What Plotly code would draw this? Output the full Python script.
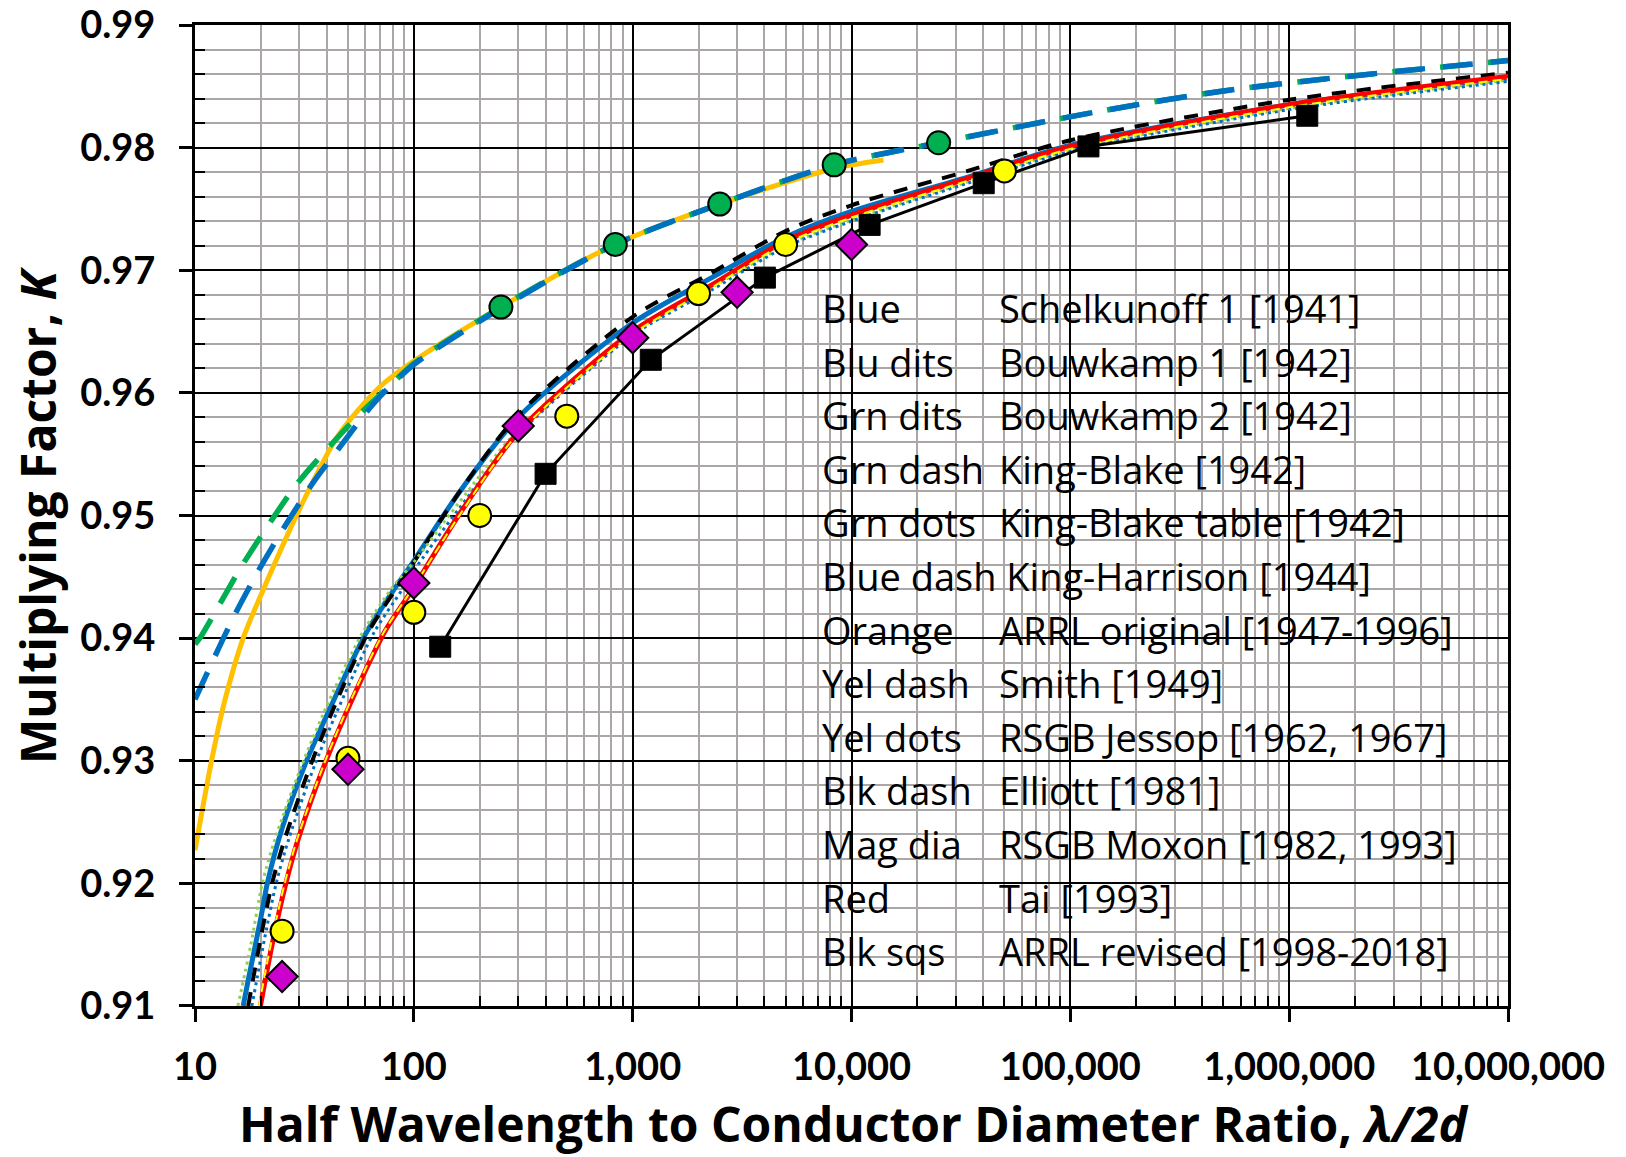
import plotly.graph_objects as go

# ---------------- data ----------------
# Schelkunoff 1 [1941] - blue solid
blue_x = [16.6, 17.5, 20, 21.4, 25, 32, 44, 60, 80, 100, 160, 300, 1000, 2300, 5000, 10000, 34000, 1e5, 1e6, 1e7]
blue_y = [0.9100, 0.9121, 0.9172, 0.9200, 0.9245, 0.9298, 0.9353, 0.9403, 0.9438, 0.9463, 0.9518, 0.9580,
          0.9657, 0.9694, 0.9727, 0.9748, 0.9776, 0.9802, 0.9835, 0.9857]
# Bouwkamp 1 [1942] - blue dotted
bdot_x = [18.2, 20.8, 23.5, 26.8, 35.5, 48.5, 66, 88, 100, 160, 300, 1000, 2300, 5000, 10000, 34000, 1e5, 1e6, 1e7]
bdot_y = [0.9100, 0.9155, 0.9200, 0.9236, 0.9298, 0.9355, 0.9405, 0.9439, 0.9455, 0.9505, 0.9566, 0.9647,
          0.9684, 0.9719, 0.9740, 0.9771, 0.9797, 0.9831, 0.9854]
# Bouwkamp 2 [1942] - light green dotted
gdot_x = [15.7, 18, 20.3, 23.2, 31, 42.5, 58.5, 78, 100, 160, 300, 1000, 2300, 5000, 10000, 34000, 1e5, 1e6, 1e7]
gdot_y = [0.9100, 0.9150, 0.9200, 0.9236, 0.9298, 0.9355, 0.9405, 0.9439, 0.9462, 0.9510, 0.9570, 0.9649,
          0.9686, 0.9720, 0.9741, 0.9772, 0.9798, 0.9832, 0.9855]
# King-Blake [1942] - green dashed
gdash_x = [10, 10.7, 16, 21.6, 29.6, 42, 57.5, 80, 100, 250, 830, 2500, 8300, 25000, 130000, 490000, 1.84e6, 1e7]
gdash_y = [0.9395, 0.9402, 0.9456, 0.9492, 0.9527, 0.9558, 0.9584, 0.9608, 0.9624, 0.9670, 0.9721, 0.9754,
           0.9786, 0.9804, 0.9829, 0.9846, 0.9858, 0.9871]
# King-Blake table [1942] - green circles
kbt_x = [250, 833, 2500, 8333, 25000]
kbt_y = [0.9670, 0.9721, 0.9754, 0.9786, 0.9804]
# King-Harrison [1944] - blue dashed
bdash_x = [10, 15, 19.5, 25.7, 34.7, 47.4, 66, 100, 250, 830, 2500, 8300, 25000, 130000, 490000, 1.84e6, 1e7]
bdash_y = [0.9350, 0.9417, 0.9455, 0.9491, 0.9527, 0.9559, 0.9592, 0.9623, 0.9669, 0.9721, 0.9754, 0.9786,
           0.9804, 0.9829, 0.9846, 0.9858, 0.9871]
# ARRL original [1947-1996] - orange
orange_x = [10, 11.9, 13.5, 16.6, 20, 30, 45, 70, 100, 250, 830, 2500, 8300, 14000]
orange_y = [0.9227, 0.9300, 0.9345, 0.9400, 0.9435, 0.9505, 0.9565, 0.9605, 0.9626, 0.9670, 0.9721, 0.9754,
            0.9783, 0.9790]
# Smith [1949] - yellow dashed
ydash_x = [19.6, 22.2, 25.7, 29.3, 39, 53.3, 73, 97.5, 160, 300, 1000, 2300, 5000, 10000, 34000, 1e5, 1e6, 1e7]
ydash_y = [0.9100, 0.9150, 0.9200, 0.9236, 0.9298, 0.9355, 0.9405, 0.9439, 0.9499, 0.9567, 0.9648, 0.9686,
           0.9722, 0.9743, 0.9773, 0.9799, 0.9833, 0.9856]
# RSGB Jessop [1962, 1967] - yellow circles
jes_x = [25, 50, 100, 200, 500, 2000, 5000, 50000]
jes_y = [0.9161, 0.9302, 0.9421, 0.9500, 0.9581, 0.9681, 0.9721, 0.9781]
# Elliott [1981] - black dashed
kdash_x = [17.5, 20.2, 22.5, 25.7, 34, 46, 62, 82, 100, 160, 300, 1000, 2300, 5000, 10000, 34000, 1e5, 1e6, 1e7]
kdash_y = [0.9100, 0.9160, 0.9200, 0.9236, 0.9298, 0.9355, 0.9405, 0.9439, 0.9462, 0.9518, 0.9582, 0.9662,
           0.9698, 0.9732, 0.9753, 0.9781, 0.9806, 0.9839, 0.9861]
# RSGB Moxon [1982, 1993] - magenta diamonds
mox_x = [25, 50, 100, 300, 1000, 3000, 10000]
mox_y = [0.9124, 0.9293, 0.9445, 0.9573, 0.9645, 0.9682, 0.9721]
# Tai [1993] - red
red_x = [19.9, 22.5, 26.0, 29.6, 39.3, 53.8, 73.5, 98, 160, 300, 1000, 2300, 5000, 10000, 34000, 1e5, 1e6, 1e7]
red_y = [0.9100, 0.9150, 0.9200, 0.9236, 0.9298, 0.9355, 0.9405, 0.9439, 0.9500, 0.9568, 0.9650, 0.9688,
         0.9724, 0.9745, 0.9775, 0.9801, 0.9835, 0.9858]
# ARRL revised [1998-2018] - black squares
arrl_x = [132, 400, 1210, 4020, 12100, 40200, 121000, 1210000]
arrl_y = [0.9393, 0.9534, 0.9627, 0.9694, 0.9737, 0.9771, 0.9801, 0.9826]

# axis ticks
x_tickvals = [10, 100, 1000, 10000, 100000, 1000000, 10000000]
x_ticktext = ["10", "100", "1,000", "10,000", "100,000", "1,000,000", "10,000,000"]
y_tickvals = [0.91, 0.92, 0.93, 0.94, 0.95, 0.96, 0.97, 0.98, 0.99]
y_ticktext = ["0.91", "0.92", "0.93", "0.94", "0.95", "0.96", "0.97", "0.98", "0.99"]

# legend text
legend_keys = ["Blue", "Blu dits", "Grn dits", "Grn dash", "Grn dots", "Blue dash", "Orange",
               "Yel dash", "Yel dots", "Blk dash", "Mag dia", "Red", "Blk sqs"]
legend_names = ["Schelkunoff 1 [1941]", "Bouwkamp 1 [1942]", "Bouwkamp 2 [1942]", "King-Blake [1942]",
                "King-Blake table [1942]", "King-Harrison [1944]", "ARRL original [1947-1996]",
                "Smith [1949]", "RSGB Jessop [1962, 1967]", "Elliott [1981]", "RSGB Moxon [1982, 1993]",
                "Tai [1993]", "ARRL revised [1998-2018]"]

# ---------------- figure ----------------
BLUE = "#0070C0"
GREEN = "#00B050"
LGREEN = "#92D050"
ORANGE = "#FFC000"
YELLOW = "#FFFF00"
RED = "#FF0000"
MAG = "#CC00CC"
FONT = "Open Sans"

fig = go.Figure()


def line(x, y, color, width, dash="solid"):
    fig.add_trace(go.Scatter(x=x, y=y, mode="lines",
                             line=dict(color=color, width=width, dash=dash, shape="spline", smoothing=0.8),
                             hoverinfo="skip"))


line(orange_x, orange_y, ORANGE, 5)
line(gdash_x, gdash_y, GREEN, 5.5, "30px,18px")
line(bdash_x, bdash_y, BLUE, 5.5, "30px,18px")
line(blue_x, blue_y, BLUE, 5)
line(kdash_x, kdash_y, "black", 4, "14px,11px")
line(gdot_x, gdot_y, LGREEN, 3, "3px,4px")
line(bdot_x, bdot_y, BLUE, 3, "3px,4px")
line(red_x, red_y, RED, 5)
line(ydash_x, ydash_y, YELLOW, 2, "9px,5px")

fig.add_trace(go.Scatter(x=arrl_x, y=arrl_y, mode="lines+markers",
                         line=dict(color="black", width=3),
                         marker=dict(symbol="square", size=21, color="black",
                                     line=dict(color="black", width=1))))
fig.add_trace(go.Scatter(x=jes_x, y=jes_y, mode="markers",
                         marker=dict(symbol="circle", size=23, color=YELLOW,
                                     line=dict(color="black", width=2))))
fig.add_trace(go.Scatter(x=mox_x, y=mox_y, mode="markers",
                         marker=dict(symbol="diamond", size=24, color=MAG,
                                     line=dict(color="black", width=2))))
fig.add_trace(go.Scatter(x=kbt_x, y=kbt_y, mode="markers",
                         marker=dict(symbol="circle", size=23, color=GREEN,
                                     line=dict(color="black", width=2))))

# page body margin is removed below, so figure pixels = screenshot pixels
W, H = 1626, 1157
L, R, T, B = 195, W - 1508, 25, H - 1006
PW, PH = W - L - R, H - T - B


def px_x(p):  # pixel x -> paper coordinate
    return (p - L) / PW


def px_y(p):  # pixel y -> paper coordinate
    return (H - B - p) / PH


x_minor = [m * 10 ** e for e in range(1, 7) for m in range(2, 10)]
y_minor = [round(0.91 + 0.002 * i, 3) for i in range(41) if i % 5 != 0]

tickfont = dict(family="Lato", size=38, color="black", weight="bold")

fig.update_xaxes(type="log", range=[1, 7.00001], tickmode="array", tickvals=x_tickvals, ticktext=x_ticktext,
                 ticks="outside", ticklen=13, tickwidth=2.5, tickcolor="black",
                 showline=True, linecolor="black", linewidth=3, mirror=True, automargin=False,
                 showgrid=True, gridcolor="black", gridwidth=2, zeroline=False,
                 tickfont=tickfont, ticklabelstandoff=12, ticklabeloverflow="allow",
                 minor=dict(tickmode="array", tickvals=x_minor, ticks="inside", ticklen=10, tickwidth=2,
                            tickcolor="black", showgrid=True, gridcolor="#ABA7A7", gridwidth=2))
fig.update_yaxes(range=[0.909999, 0.990001], tickmode="array", tickvals=y_tickvals, ticktext=y_ticktext,
                 ticks="outside", ticklen=13, tickwidth=2.5, tickcolor="black",
                 showline=True, linecolor="black", linewidth=3, mirror=True, automargin=False,
                 showgrid=True, gridcolor="black", gridwidth=2, zeroline=False,
                 tickfont=tickfont, ticklabelstandoff=16, ticklabeloverflow="allow",
                 minor=dict(tickmode="array", tickvals=y_minor, ticks="inside", ticklen=10, tickwidth=2,
                            tickcolor="black", showgrid=True, gridcolor="#ABA7A7", gridwidth=2))

# legend box
fig.add_shape(type="rect", xref="paper", yref="paper", x0=px_x(813), x1=px_x(1484), y0=px_y(987),
              y1=px_y(274), fillcolor="white", line=dict(width=0), layer="between")

annotations = []
lfont = dict(family=FONT, size=38, color="black")
for i, (k, n) in enumerate(zip(legend_keys, legend_names)):
    yy = px_y(308 + i * 53.6)
    if k == "Blue dash":
        annotations.append(dict(xref="paper", yref="paper", x=px_x(820), y=yy, text=k + " " + n,
                                showarrow=False, xanchor="left", yanchor="middle", font=lfont))
        continue
    annotations.append(dict(xref="paper", yref="paper", x=px_x(820), y=yy, text=k, showarrow=False,
                            xanchor="left", yanchor="middle", font=lfont))
    annotations.append(dict(xref="paper", yref="paper", x=px_x(997), y=yy, text=n, showarrow=False,
                            xanchor="left", yanchor="middle", font=lfont))

tfont = dict(family=FONT, size=48, color="black", weight="bold")
annotations.append(dict(xref="paper", yref="paper", x=px_x(37), y=px_y(515), text="Multiplying Factor, <i>K</i>",
                        textangle=-90, showarrow=False, xanchor="center", yanchor="middle", font=tfont))
annotations.append(dict(xref="paper", yref="paper", x=px_x(854), y=px_y(1123),
                        text="Half Wavelength to Conductor Diameter Ratio, <i>λ/2d</i>",
                        showarrow=False, xanchor="center", yanchor="middle", font=tfont))

fig.update_layout(width=W, height=H, margin=dict(l=L, r=R, t=T, b=B, autoexpand=False), plot_bgcolor="white",
                  paper_bgcolor="white", showlegend=False, annotations=annotations)

fig.write_html("out.html", config={"displayModeBar": False},
               post_script="document.body.style.margin='0px';")
